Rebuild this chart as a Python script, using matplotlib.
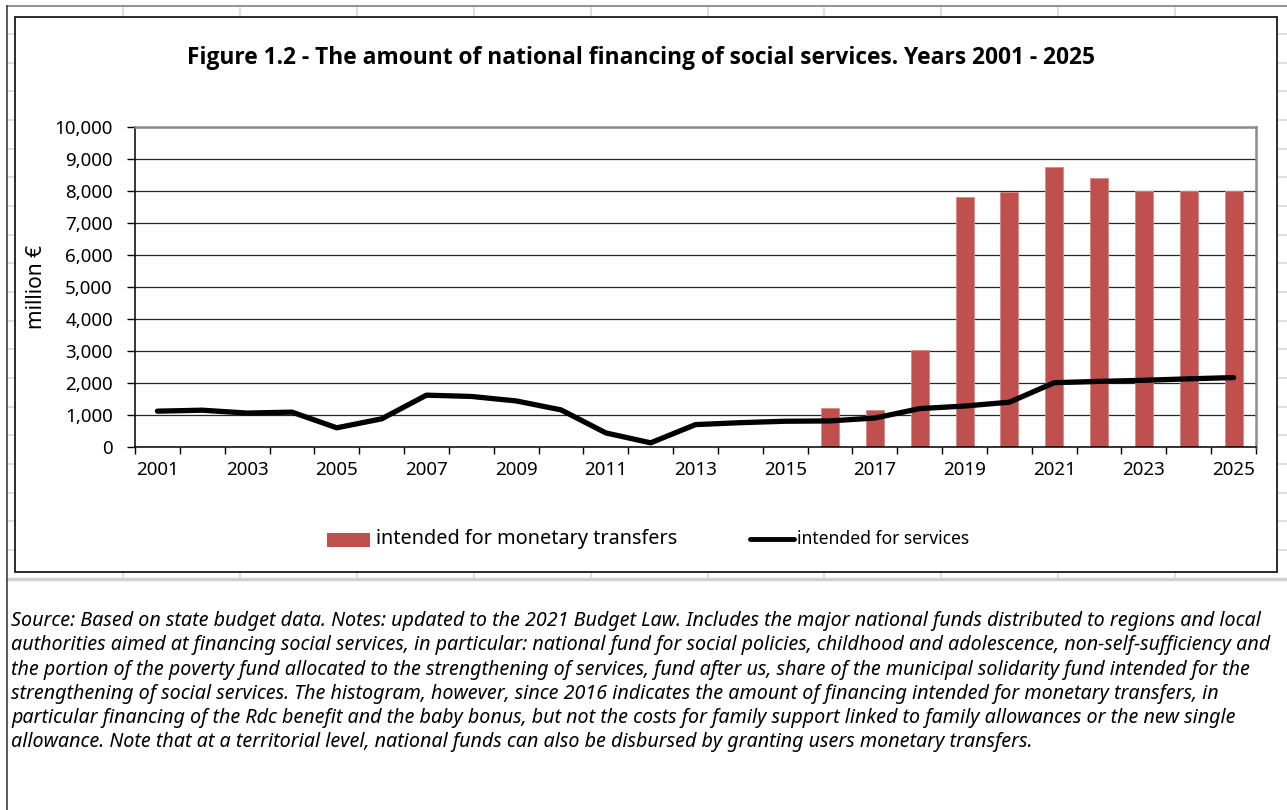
import numpy as np
import matplotlib
matplotlib.use("Agg")
import matplotlib.pyplot as plt
from matplotlib.patches import Rectangle
from matplotlib.lines import Line2D

plt.rcParams['font.family'] = ['Noto Sans', 'DejaVu Sans']

# ---- data -------------------------------------------------------------
years = list(range(2001, 2026))
monetary_transfers = [np.nan] * 15 + [1220, 1150, 3020, 7820, 7980,
                                      8760, 8400, 8000, 8000, 8000]
services = [1120, 1150, 1060, 1090, 600, 880, 1620, 1580, 1440, 1160,
            440, 130, 700, 760, 805, 815, 905, 1200, 1280, 1400,
            2010, 2050, 2085, 2130, 2170]
tick_years = [str(y) for y in years]
y_ticks = list(range(0, 10001, 1000))

title = "Figure 1.2 - The amount of national financing of social services. Years 2001 - 2025"
y_label = "million \u20ac"
legend_bars = "intended for monetary transfers"
legend_line = "intended for services"
notes = [
    "Source: Based on state budget data. Notes: updated to the 2021 Budget Law. Includes the major national funds distributed to regions and local",
    "authorities aimed at financing social services, in particular: national fund for social policies, childhood and adolescence, non-self-sufficiency and",
    "the portion of the poverty fund allocated to the strengthening of services, fund after us, share of the municipal solidarity fund intended for the",
    "strengthening of social services. The histogram, however, since 2016 indicates the amount of financing intended for monetary transfers, in",
    "particular financing of the Rdc benefit and the baby bonus, but not the costs for family support linked to family allowances or the new single",
    "allowance. Note that at a territorial level, national funds can also be disbursed by granting users monetary transfers.",
]

BAR_COLOR = "#C0504D"
W, H = 1287, 810

fig = plt.figure(figsize=(W / 100, H / 100), dpi=100)
fig.patch.set_facecolor("white")

# ---- worksheet background (pixel coordinates) --------------------------
bg = fig.add_axes([0, 0, 1, 1], zorder=0)
bg.set_xlim(0, W)
bg.set_ylim(H, 0)
bg.axis("off")

cell_grey = "#d9d9d9"
for k in range(19):
    y = 34 + k * 28.67
    bg.plot([7, W], [y, y], color=cell_grey, lw=1.2, zorder=1)
for k in range(12):
    x = 123 + k * 116.9
    bg.plot([x, x], [6, 579], color=cell_grey, lw=1.2, zorder=1)
bg.plot([7, W], [579, 579], color="#d0d0d0", lw=2.5, zorder=1)
bg.plot([7, W], [6, 6], color="#7f7f7f", lw=1.2, zorder=1)
bg.plot([7, 7], [6, H], color="#404040", lw=1.2, zorder=1)

# chart frame
bg.add_patch(Rectangle((15, 17), 1262, 555, facecolor="white",
                       edgecolor="#1a1a1a", lw=1.3, zorder=3))

# title
bg.text(641, 58, title, ha="center", va="center", fontsize=16.4,
        fontweight="bold", family=["Open Sans", "DejaVu Sans"],
        color="black", zorder=5)

# y label
bg.text(37, 287, y_label, ha="center", va="center", rotation=90,
        fontsize=15, color="black", zorder=5)

# legend
bg.add_patch(Rectangle((327, 533), 43, 14, facecolor=BAR_COLOR,
                       edgecolor="none", zorder=5))
bg.text(376, 539, legend_bars, ha="left", va="center", fontsize=14.3,
        color="black", zorder=5)
bg.add_line(Line2D([750, 794], [539, 539], color="black", lw=3.5,
                   solid_capstyle="round", zorder=5))
bg.text(797, 539, legend_line, ha="left", va="center", fontsize=12.6,
        color="black", zorder=5)

# notes
for i, line in enumerate(notes):
    bg.text(11, 621 + i * 24.3, line, ha="left", va="center", fontsize=14.2,
            style="italic", color="black", zorder=5)

# ---- chart -------------------------------------------------------------
left, right, top, bottom = 135, 1256, 127, 447
ax = fig.add_axes([left / W, (H - bottom) / H, (right - left) / W,
                   (bottom - top) / H], zorder=2)
ax.set_facecolor("none")

x = np.arange(len(years))
ax.bar(x, monetary_transfers, width=0.4, color=BAR_COLOR,
       edgecolor="#d98a88", linewidth=0.6, zorder=2)
ax.plot(x, services, color="black", lw=3.8, solid_joinstyle="round",
        solid_capstyle="round", zorder=3)

ax.set_xlim(-0.5, len(years) - 0.5)
ax.set_ylim(0, 10000)
ax.set_yticks(y_ticks)
ax.set_yticklabels([f"{v:,}" for v in y_ticks], fontsize=13.5)
ax.yaxis.grid(True, color="#262626", lw=0.9, zorder=0)
ax.set_axisbelow(True)

# tick marks between categories, labels on every other category
ax.set_xticks(np.arange(-0.5, len(years), 1.0))
ax.set_xticklabels([])
ax.set_xticks(x[::2], minor=True)
ax.set_xticklabels(tick_years[::2], minor=True, fontsize=13.5)
ax.tick_params(axis="x", which="major", length=5, width=1, color="black",
               direction="out")
ax.tick_params(axis="x", which="minor", length=0, pad=10)
ax.tick_params(axis="y", length=6, width=1, color="black", pad=10)

for s in ("left", "bottom"):
    ax.spines[s].set_color("black")
    ax.spines[s].set_linewidth(1.1)
for s in ("top", "right"):
    ax.spines[s].set_color("#8c8c8c")
    ax.spines[s].set_linewidth(1.8)

fig.savefig("out.png", dpi=100)
